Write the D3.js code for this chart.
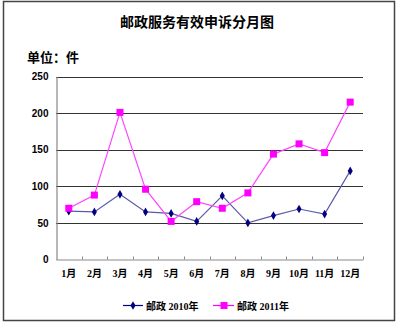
<!DOCTYPE html>
<html><head><meta charset="utf-8">
<script src="https://cdn.jsdelivr.net/npm/d3@7"></script>
<style>html,body{margin:0;padding:0;background:#fff;}svg{display:block;}</style>
</head><body>
<svg id="c" width="400" height="324"></svg>
<script>
const months = ["1月","2月","3月","4月","5月","6月","7月","8月","9月","10月","11月","12月"];
const s2010 = [66,65,89,65,63,52,87,50,60,69,62,121];
const s2011 = [70,88,201,96,52,79,70,91,144,158,146,215];
const yTicks = [0,50,100,150,200,250];
const seriesNames = ["邮政 2010年","邮政 2011年"];
const titleText = "邮政服务有效申诉分月图";
const unitText = "单位：件";

const font = "SimSun, 'Noto Sans CJK SC', sans-serif";
const mixFont = "'Liberation Serif', 'Noto Sans CJK SC', serif";
const svg = d3.select("#c");
svg.append("rect").attr("x",0).attr("y",0).attr("width",400).attr("height",324).attr("fill","#fff");
svg.append("rect").attr("x",3.5).attr("y",1.5).attr("width",391).attr("height",319)
  .attr("fill","none").attr("stroke","#444").attr("stroke-width",1.5);

const L=56, R=363, T=76.5, B=259.5;
const x = d3.scaleBand().domain(months).range([L,R]);
const y = d3.scaleLinear().domain([0,250]).range([B,T]);

svg.append("text").attr("x",197).attr("y",27).attr("text-anchor","middle")
  .attr("font-family",font).attr("font-weight","bold").attr("font-size",14).text(titleText);
svg.append("text").attr("x",27).attr("y",62)
  .attr("font-family",font).attr("font-weight","bold").attr("font-size",13).text(unitText);

// gridlines
svg.append("g").selectAll("line").data(yTicks.filter(d=>d>0)).join("line")
  .attr("x1",L).attr("x2",R).attr("y1",d=>Math.round(y(d))+0.5).attr("y2",d=>Math.round(y(d))+0.5)
  .attr("stroke","#333").attr("stroke-width",1);

// y axis
const ya = svg.append("g").attr("transform",`translate(${L+0.5},0)`)
  .call(d3.axisLeft(y).tickValues(yTicks).tickSize(0).tickPadding(8));
ya.select(".domain").attr("stroke","#888").attr("stroke-width",1.2);
ya.selectAll("text").attr("font-family","Arial, 'Liberation Sans', sans-serif").attr("font-weight","bold").attr("font-size",10).attr("fill","#000");

// x axis
const xa = svg.append("g").attr("transform",`translate(0,${B})`)
  .call(d3.axisBottom(x).tickSize(0).tickPadding(10));
xa.select(".domain").attr("stroke","#888").attr("stroke-width",1.2);
xa.selectAll("text").attr("font-family",mixFont).attr("font-weight","bold").attr("font-size",10).attr("fill","#000");
svg.append("g").selectAll("line").data(months.slice(1).concat(["end"])).join("line")
  .attr("x1",(d,i)=>Math.round(L + x.step()*(i+1))+0.5).attr("x2",(d,i)=>Math.round(L + x.step()*(i+1))+0.5)
  .attr("y1",B-3).attr("y2",B).attr("stroke","#888");

const cx = d=>x(d)+x.bandwidth()/2;
const line2010 = d3.line().x((d,i)=>cx(months[i])).y(d=>y(d));
svg.append("path").datum(s2010).attr("d",line2010).attr("fill","none").attr("stroke","#5a5aa8").attr("stroke-width",1.2);
svg.append("path").datum(s2011).attr("d",line2010).attr("fill","none").attr("stroke","#ff44ff").attr("stroke-width",1.2);

const diamond = d3.symbol().type(d3.symbolDiamond).size(22);
svg.append("g").selectAll("path").data(s2010).join("path")
  .attr("d",diamond).attr("transform",(d,i)=>`translate(${cx(months[i])},${y(d)})`).attr("fill","#000080");
svg.append("g").selectAll("rect").data(s2011).join("rect")
  .attr("x",(d,i)=>cx(months[i])-3.5).attr("y",d=>y(d)-3.5).attr("width",7).attr("height",7).attr("fill","#ff00ff");

// legend
const lg = svg.append("g");
lg.append("line").attr("x1",123).attr("x2",143).attr("y1",305.5).attr("y2",305.5).attr("stroke","#000080").attr("stroke-width",1.2);
lg.append("path").attr("d",diamond).attr("transform","translate(133,305.5)").attr("fill","#000080");
lg.append("text").attr("x",146).attr("y",309.5).attr("font-family",mixFont).attr("font-weight","bold").attr("font-size",10).text(seriesNames[0]);
lg.append("line").attr("x1",213).attr("x2",234).attr("y1",305.5).attr("y2",305.5).attr("stroke","#ff00ff").attr("stroke-width",1.2);
lg.append("rect").attr("x",220.5).attr("y",302).attr("width",7).attr("height",7).attr("fill","#ff00ff");
lg.append("text").attr("x",237).attr("y",309.5).attr("font-family",mixFont).attr("font-weight","bold").attr("font-size",10).text(seriesNames[1]);
</script>
</body></html>
